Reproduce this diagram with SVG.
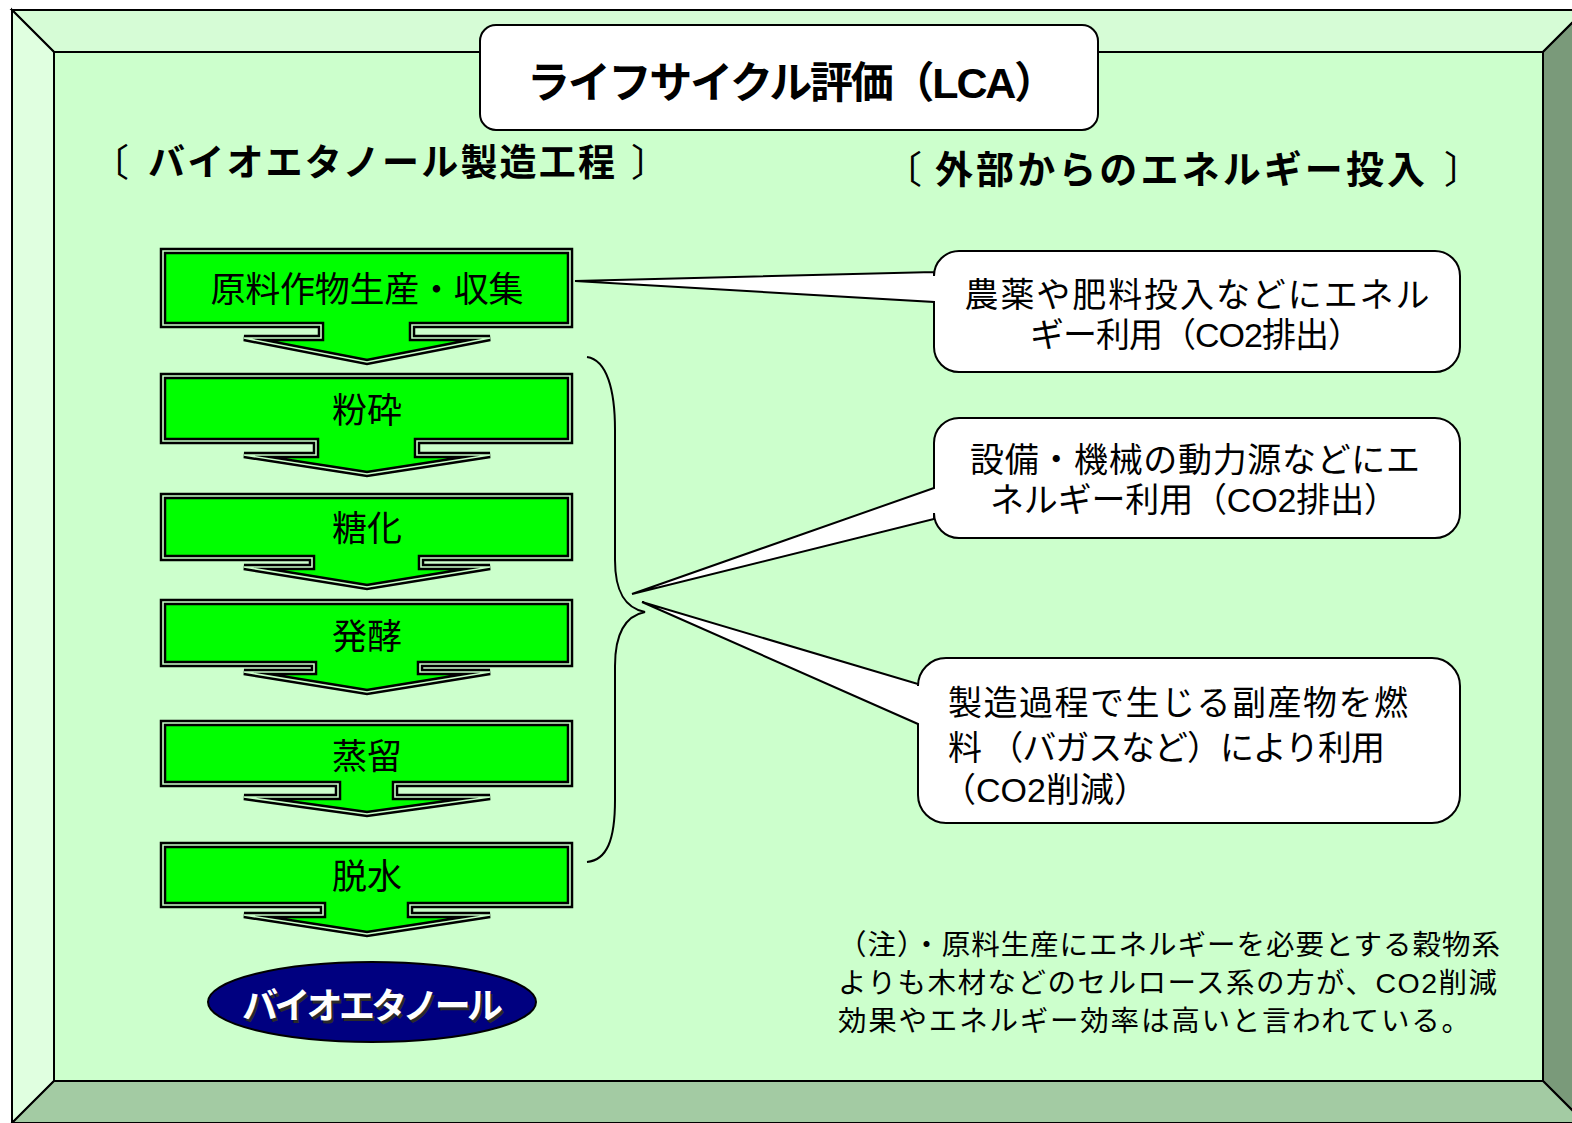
<svg xmlns="http://www.w3.org/2000/svg" width="1572" height="1123" viewBox="0 0 1572 1123">
<style>
.t{font-family:"Liberation Sans","Noto Sans CJK JP",sans-serif;fill:#000}
.b{font-weight:bold}
.proc{fill:#00ff00;stroke:#000;stroke-width:6.5;stroke-linejoin:miter}
.procin{fill:none;stroke:#c8ffc8;stroke-width:1.6;stroke-linejoin:miter}
.call{fill:#fff;stroke:#000;stroke-width:2}
.bev{stroke:#000;stroke-width:2;stroke-linejoin:miter}
</style>
<g id="frame">
<rect x="0" y="0" width="1572" height="1123" fill="#fff"/>
<polygon class="bev" points="12,10 1585,10 1543,52 54,52" fill="#d6fcd6"/>
<polygon class="bev" points="12,10 54,52 54,1081 12,1123" fill="#e0ffe0"/>
<polygon class="bev" points="1585,10 1585,1123 1543,1081 1543,52" fill="#7a9a7a"/>
<polygon class="bev" points="12,1123 54,1081 1543,1081 1585,1123" fill="#a3cba3"/>
<rect class="bev" x="54" y="52" width="1489" height="1029" fill="#ccffcc"/>
</g>
<g id="title">
<rect x="480" y="25" width="618" height="105" rx="16" fill="#fff" stroke="#000" stroke-width="2"/>
<text class="t b" x="792" y="98" font-size="43" text-anchor="middle" textLength="530">ライフサイクル評価（LCA）</text>
</g>
<g id="heading-left">
<text class="t" x="91" y="176" font-size="38">〔</text>
<text class="t b" x="148" y="176" font-size="37" textLength="467">バイオエタノール製造工程</text>
<text class="t" x="631" y="176" font-size="38">〕</text>
</g>
<g id="heading-right">
<text class="t" x="884" y="183" font-size="38">〔</text>
<text class="t b" x="935" y="183" font-size="38" textLength="490">外部からのエネルギー投入</text>
<text class="t" x="1444" y="183" font-size="38">〕</text>
</g>
<g id="connectors">
<path d="M587,357 C607,360 615,390 615,430 L615,560 C615,592 625,608 645,612 C625,616 615,634 615,666 L615,800 C615,840 607,860 587,862" fill="none" stroke="#000" stroke-width="2"/>
</g>
<g id="step1">
<path class="proc" d="M163,251 H570 V325 H412 V338 H490 L367,362 L244,338 H321 V325 H163 Z"/>
<path class="procin" d="M163,251 H570 V325 H412 V338 H490 L367,362 L244,338 H321 V325 H163 Z"/>
<text class="t" x="367" y="302" font-size="35" text-anchor="middle" textLength="313">原料作物生産・収集</text>
</g>
<g id="step2">
<path class="proc" d="M163,376 H570 V441 H417 V455 H490 L367,474 L244,455 H316 V441 H163 Z"/>
<path class="procin" d="M163,376 H570 V441 H417 V455 H490 L367,474 L244,455 H316 V441 H163 Z"/>
<text class="t" x="367" y="423" font-size="35" text-anchor="middle">粉砕</text>
</g>
<g id="step3">
<path class="proc" d="M163,496 H570 V558 H421 V567 H490 L367,587 L244,567 H312 V558 H163 Z"/>
<path class="procin" d="M163,496 H570 V558 H421 V567 H490 L367,587 L244,567 H312 V558 H163 Z"/>
<text class="t" x="367" y="541" font-size="35" text-anchor="middle">糖化</text>
</g>
<g id="step4">
<path class="proc" d="M163,602 H570 V664 H420 V672 H490 L367,692 L244,672 H314 V664 H163 Z"/>
<path class="procin" d="M163,602 H570 V664 H420 V672 H490 L367,692 L244,672 H314 V664 H163 Z"/>
<text class="t" x="367" y="649" font-size="35" text-anchor="middle">発酵</text>
</g>
<g id="step5">
<path class="proc" d="M163,723 H570 V784 H395 V797 H490 L367,814 L244,797 H338 V784 H163 Z"/>
<path class="procin" d="M163,723 H570 V784 H395 V797 H490 L367,814 L244,797 H338 V784 H163 Z"/>
<text class="t" x="367" y="769" font-size="35" text-anchor="middle">蒸留</text>
</g>
<g id="step6">
<path class="proc" d="M163,845 H570 V905 H410 V915 H490 L367,934 L244,915 H323 V905 H163 Z"/>
<path class="procin" d="M163,845 H570 V905 H410 V915 H490 L367,934 L244,915 H323 V905 H163 Z"/>
<text class="t" x="367" y="889" font-size="35" text-anchor="middle">脱水</text>
</g>
<g id="product">
<ellipse cx="372" cy="1002" rx="164" ry="40" fill="#000080" stroke="#000" stroke-width="2"/>
<text class="t b" x="374.5" y="1021.5" font-size="36" text-anchor="middle" textLength="261" style="fill:#2a2a2a">バイオエタノール</text>
<text class="t b" x="372.5" y="1019" font-size="36" text-anchor="middle" textLength="261" style="fill:#fff">バイオエタノール</text>
</g>
<g id="callout1">
<path class="call" d="M959,251 H1435 A25,25 0 0 1 1460,276 V347 A25,25 0 0 1 1435,372 H959 A25,25 0 0 1 934,347 V302 L575,281 L934,272 V276 A25,25 0 0 1 959,251 Z"/>
<text class="t" x="1197" y="307" font-size="34" text-anchor="middle" textLength="465">農薬や肥料投入などにエネル</text>
<text class="t" x="1196" y="347" font-size="34" text-anchor="middle" textLength="332">ギー利用（CO2排出）</text>
</g>
<g id="callout2">
<path class="call" d="M959,418 H1435 A25,25 0 0 1 1460,443 V513 A25,25 0 0 1 1435,538 H959 A25,25 0 0 1 934,513 L934,519 L632,594 L934,488 V443 A25,25 0 0 1 959,418 Z"/>
<text class="t" x="1195" y="472" font-size="34" text-anchor="middle" textLength="450">設備・機械の動力源などにエ</text>
<text class="t" x="1194" y="512" font-size="34" text-anchor="middle" textLength="408">ネルギー利用（CO2排出）</text>
</g>
<g id="callout3">
<path class="call" d="M946,658 H1432 A28,28 0 0 1 1460,686 V795 A28,28 0 0 1 1432,823 H946 A28,28 0 0 1 918,795 V724 L642,602 L918,684 V686 A28,28 0 0 1 946,658 Z"/>
<text class="t" x="948" y="715" font-size="34" textLength="460">製造過程で生じる副産物を燃</text>
<text class="t" x="948" y="760" font-size="34" textLength="437">料 （バガスなど）により利用</text>
<text class="t" x="942" y="802" font-size="34">（CO2削減）</text>
</g>
<g id="note">
<text class="t" x="838" y="955" font-size="28.5" textLength="662">（注）・原料生産にエネルギーを必要とする穀物系</text>
<text class="t" x="838" y="993" font-size="28.5" textLength="659">よりも木材などのセルロース系の方が、CO2削減</text>
<text class="t" x="838" y="1031" font-size="28.5" textLength="632">効果やエネルギー効率は高いと言われている。</text>
</g>
</svg>
